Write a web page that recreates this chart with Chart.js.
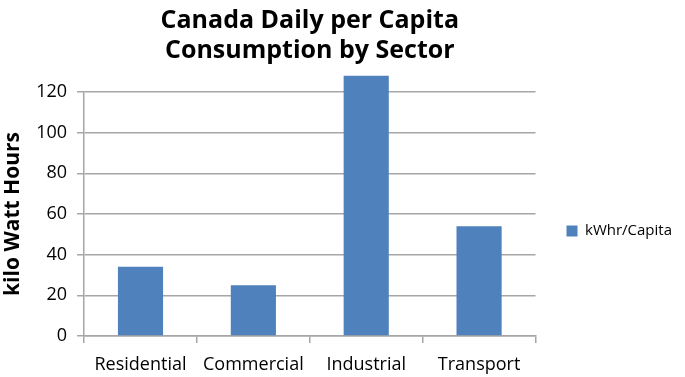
<!DOCTYPE html>
<html>
<head>
<meta charset="utf-8">
<script src="https://cdn.jsdelivr.net/npm/chart.js@4"></script>
<style>
  html, body { margin: 0; padding: 0; background: #fff; }
  #wrap { width: 685px; height: 377px; }
</style>
</head>
<body>
<div id="wrap"><canvas id="chart" width="685" height="377"></canvas></div>
<script>
const sectors = ["Residential", "Commercial", "Industrial", "Transport"];
const kwhPerCapita = [34, 25, 128, 54];
const seriesName = "kWhr/Capita";
const chartTitle = ["Canada Daily per Capita", "Consumption by Sector"];
const yAxisTitle = "kilo Watt Hours";
const yTickMax = 120;
const yTickStep = 20;

const fontFamily = "'Open Sans', 'DejaVu Sans', sans-serif";
const gridGray = "#a6a6a6";

const ctx = document.getElementById("chart").getContext("2d");
const chart = new Chart(ctx, {
  type: "bar",
  data: {
    labels: sectors,
    datasets: [{
      label: seriesName,
      data: kwhPerCapita,
      backgroundColor: "#4f81bd",
      borderWidth: 0,
      categoryPercentage: 1,
      barPercentage: 0.4,
      clip: false
    }]
  },
  options: {
    responsive: false,
    animation: false,
    layout: { padding: { top: 4, right: 3, bottom: 0, left: 0 } },
    plugins: {
      title: {
        display: true,
        text: chartTitle,
        fullSize: false,
        color: "#000",
        font: { family: fontFamily, size: 25, weight: "bold", lineHeight: 1.2 },
        padding: { top: 2, bottom: 26 }
      },
      legend: {
        position: "right",
        fullSize: false,
        // empty legend title just pushes the entry down a bit
        title: { display: true, text: "", font: { size: 10, lineHeight: 1 }, padding: 12 },
        labels: {
          boxWidth: 11,
          boxHeight: 11,
          padding: 31,
          color: "#000",
          font: { family: fontFamily, size: 15 }
        }
      },
      tooltip: { enabled: false }
    },
    scales: {
      x: {
        afterFit: (scale) => { scale.height = 41; },
        grid: {
          display: true,
          drawOnChartArea: false,
          drawTicks: true,
          tickLength: 7,
          color: gridGray,
          lineWidth: 1.5,
          offset: true
        },
        border: { color: gridGray, width: 1.5 },
        ticks: { color: "#000", font: { family: fontFamily, size: 18 }, padding: 11 }
      },
      y: {
        min: 0,
        max: yTickMax,
        ticks: {
          stepSize: yTickStep,
          color: "#000",
          font: { family: fontFamily, size: 18 },
          padding: 10
        },
        grid: { color: gridGray, lineWidth: 1.5, tickLength: 7 },
        border: { color: gridGray, width: 1.5 },
        title: {
          display: true,
          text: yAxisTitle,
          color: "#000",
          font: { family: fontFamily, size: 21, weight: "bold" },
          padding: { top: 0, bottom: 1 }
        }
      }
    }
  }
});
</script>
</body>
</html>
